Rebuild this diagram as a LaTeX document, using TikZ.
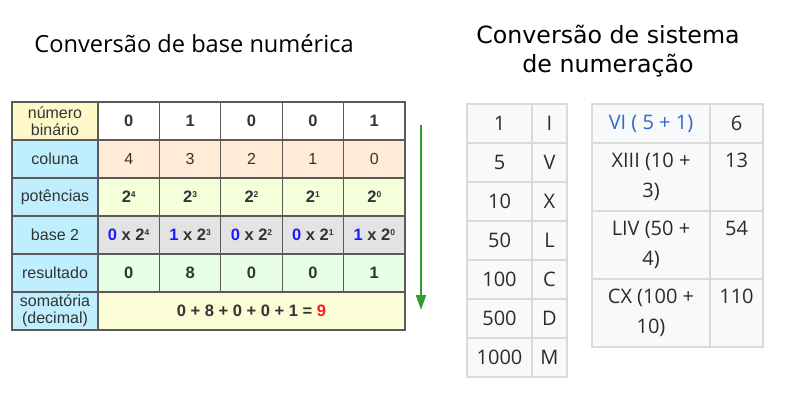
\documentclass[tikz,border=0pt]{standalone}
\usepackage{fontspec}
\setmainfont{Liberation Sans}
\newfontfamily\titlefont{Open Sans}
\newfontfamily\sysfont{DejaVu Sans}
\newfontfamily\romfont{Open Sans}
\usetikzlibrary{arrows.meta}
\definecolor{gridline}{HTML}{5A5A5A}
\definecolor{inktext}{HTML}{333333}
\definecolor{headblue}{HTML}{BFEFFF}
\definecolor{binyellow}{HTML}{FFF9C9}
\definecolor{peach}{HTML}{FFEBD6}
\definecolor{powgreen}{HTML}{F5FFD9}
\definecolor{basegrey}{HTML}{E3E3E3}
\definecolor{resgreen}{HTML}{E6FFE6}
\definecolor{sumyellow}{HTML}{FAFDD5}
\definecolor{digitblue}{HTML}{1A1AFF}
\definecolor{sumred}{HTML}{FF1A1A}
\definecolor{flowgreen}{HTML}{2E9E2E}
\definecolor{romline}{HTML}{DADADA}
\definecolor{romfill}{HTML}{F8F9FA}
\definecolor{romtext}{HTML}{2B2B2B}
\definecolor{linkblue}{HTML}{3366CC}
\newcommand{\pw}[1]{\raisebox{5.6pt}{\fontsize{8.5}{8.5}\selectfont #1}}
\tikzstyle{bincell} = [draw=gridline,line width=1.3pt,inner sep=0pt,outer sep=0pt,minimum height=38pt,text=inktext,font=\fontsize{16}{17}\selectfont,align=center]
\tikzstyle{headcell} = [bincell,minimum width=86pt,fill=headblue]
\tikzstyle{valcell} = [bincell,minimum width=61.4pt,font=\fontsize{16.5}{17}\selectfont\bfseries]
\tikzstyle{romcell} = [draw=romline,line width=1.5pt,fill=romfill,inner sep=0pt,outer sep=0pt,minimum height=39pt,text=romtext,font=\romfont\fontsize{20}{30}\selectfont,align=center]
\tikzstyle{flowarrow} = [-{Triangle[width=10pt,length=15pt]},line width=2pt,draw=flowgreen]

\begin{document}
\begin{tikzpicture}[x=1pt,y=-1pt]
	\useasboundingbox (0,0) rectangle (800,400);
	
	% titles
	\node[anchor=base,font=\titlefont\fontsize{23.6}{28}\selectfont,text=black] (ttlbase) at (194,52) {Conversão de base numérica};
	\node[font=\sysfont\fontsize{23.7}{29}\selectfont,align=center,text=black] (ttlsys) at (608,51) {Conversão de sistema\\de numeração};
	
	% binary table, first column
	\node[headcell,fill=binyellow] (h1) at (55,121) {número\\binário};
	\node[headcell] (h2) at (55,159) {coluna};
	\node[headcell] (h3) at (55,197) {potências};
	\node[headcell] (h4) at (55,235) {base 2};
	\node[headcell] (h5) at (55,273) {resultado};
	\node[headcell] (h6) at (55,311) {somatória\\(decimal)};
	
	\foreach \v [count=\i] in {0,1,0,0,1}
		\node[valcell,fill=white] (bin\i) at ({98+61.4*(\i-0.5)},121) {\v};
	\foreach \v [count=\i] in {4,3,2,1,0}
		\node[valcell,fill=peach,font=\fontsize{16}{17}\selectfont] (col\i) at ({98+61.4*(\i-0.5)},159) {\v};
	\foreach \v [count=\i] in {4,3,2,1,0}
		\node[valcell,fill=powgreen] (pow\i) at ({98+61.4*(\i-0.5)},197) {2\pw{\v}};
	\foreach \d/\v [count=\i] in {0/4,1/3,0/2,0/1,1/0}
		\node[valcell,fill=basegrey] (mul\i) at ({98+61.4*(\i-0.5)},235) {\textcolor{digitblue}{\d} x 2\pw{\v}};
	\foreach \v [count=\i] in {0,8,0,0,1}
		\node[valcell,fill=resgreen] (res\i) at ({98+61.4*(\i-0.5)},273) {\v};
	\node[valcell,fill=sumyellow,minimum width=307pt] (sum) at (251.5,311) {0 + 8 + 0 + 0 + 1 = \textcolor{sumred}{9}};
	
	% downward arrow
	\coordinate (flowtop) at (421,125);
	\coordinate (flowbot) at (421,310);
	\draw[flowarrow] (flowtop) -- (flowbot);
	
	% roman symbols
	\foreach \n/\r [count=\i] in {1/I,5/V,10/X,50/L,100/C,500/D,1000/M} {
		\node[romcell,minimum width=65pt] (num\i) at (499.5,{84.5+39*\i}) {\n};
		\node[romcell,minimum width=35pt] (sym\i) at (549.5,{84.5+39*\i}) {\r};
	}
	
	% roman examples
	\node[romcell,minimum width=118pt,text=linkblue] (ex1) at (651,123.5) {VI ( 5 + 1)};
	\node[romcell,minimum width=53pt] (val1) at (736.5,123.5) {6};
	\node[romcell,minimum width=118pt,minimum height=68pt] (ex2) at (651,177) {XIII (10 +\\3)};
	\node[romcell,minimum width=53pt,minimum height=68pt] (val2) at (736.5,177) {13\\\vphantom{3)}};
	\node[romcell,minimum width=118pt,minimum height=68pt] (ex3) at (651,245) {LIV (50 +\\4)};
	\node[romcell,minimum width=53pt,minimum height=68pt] (val3) at (736.5,245) {54\\\vphantom{4)}};
	\node[romcell,minimum width=118pt,minimum height=68pt] (ex4) at (651,313) {CX (100 +\\10)};
	\node[romcell,minimum width=53pt,minimum height=68pt] (val4) at (736.5,313) {110\\\vphantom{10)}};
\end{tikzpicture}
\end{document}
